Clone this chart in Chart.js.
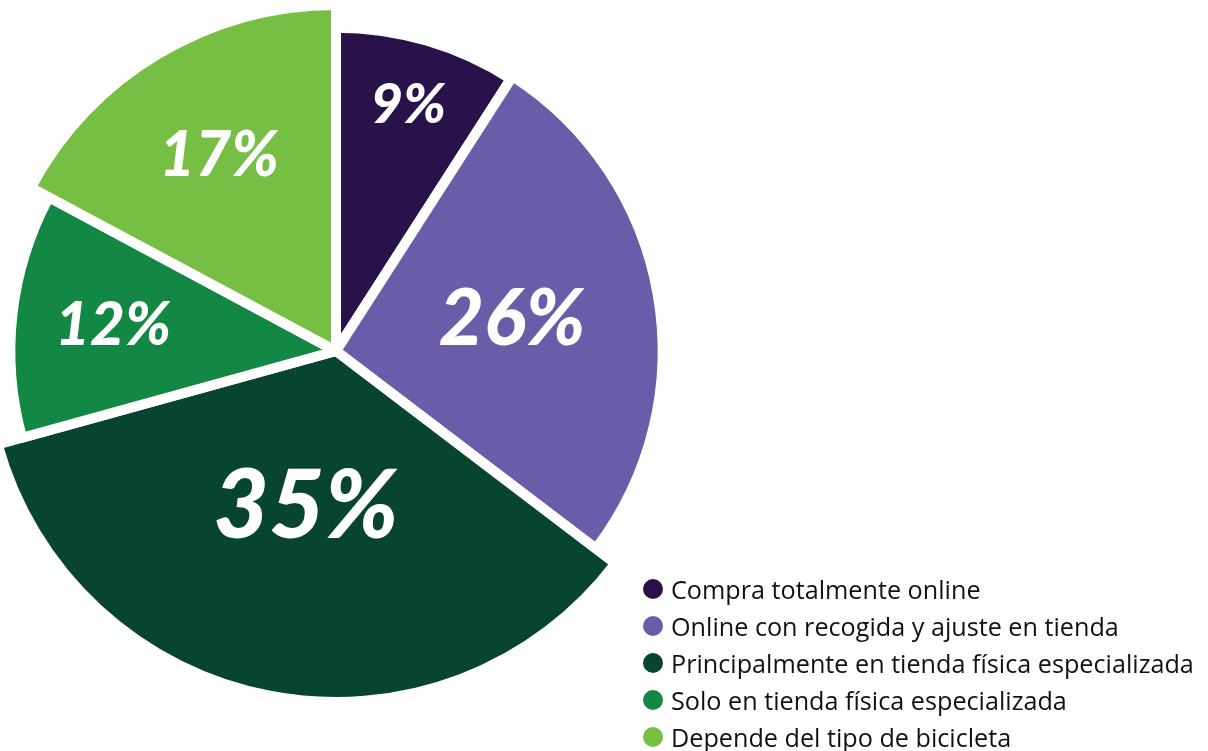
<!DOCTYPE html>
<html>
<head>
<meta charset="utf-8">
<script src="https://cdn.jsdelivr.net/npm/chart.js@4.4.1/dist/chart.umd.min.js"></script>
<style>
  html, body { margin: 0; padding: 0; background: #fff; }
  #wrap { position: relative; width: 1208px; height: 751px; }
  #legend {
    position: absolute; left: 643px; top: 571px;
    font-family: "Open Sans", sans-serif; font-size: 25.2px; color: #111;
  }
  #legend .row { height: 36.8px; display: flex; align-items: center; white-space: nowrap; }
  #legend .dot { width: 20px; height: 20px; border-radius: 50%; margin-right: 8px; flex: none; }
</style>
</head>
<body>
<div id="wrap">
  <canvas id="pie" width="1208" height="751"></canvas>
  <div id="legend"></div>
</div>
<script>
const categories = [
  "Compra totalmente online",
  "Online con recogida y ajuste en tienda",
  "Principalmente en tienda física especializada",
  "Solo en tienda física especializada",
  "Depende del tipo de bicicleta"
]
const values = [9, 26, 35, 12, 17]
const valueLabels = ["9%", "26%", "35%", "12%", "17%"]

const colors = ["#29124a", "#6a5ca8", "#07452e", "#138844", "#77bf44"]
// some slices are drawn a little bigger than the others
const radiusScale = [0.995, 1.005, 1.08, 1.002, 1.065]
// where the % text sits (share of the base radius) and its size
const labelDist = [0.79, 0.55, 0.49, 0.69, 0.7]
const labelSize = [56, 78, 96, 60, 62]

// legend
const legendEl = document.getElementById("legend")
categories.forEach((c, i) => {
  const row = document.createElement("div")
  row.className = "row"
  row.innerHTML = '<span class="dot" style="background:' + colors[i] + '"></span><span>' + c + '</span>'
  legendEl.appendChild(row)
})

const sliceSize = {
  id: "sliceSize",
  beforeDatasetsDraw(chart) {
    const meta = chart.getDatasetMeta(0)
    const base = meta.controller.outerRadius
    meta.data.forEach((arc, i) => {
      arc.outerRadius = base * radiusScale[i]
    })
  }
}

const pctLabels = {
  id: "pctLabels",
  afterDatasetsDraw(chart) {
    const meta = chart.getDatasetMeta(0)
    const base = meta.controller.outerRadius
    const ctx = chart.ctx
    ctx.save()
    ctx.fillStyle = "#fff"
    ctx.textAlign = "center"
    ctx.textBaseline = "middle"
    meta.data.forEach((arc, i) => {
      const mid = (arc.startAngle + arc.endAngle) / 2
      const d = base * labelDist[i]
      ctx.font = "italic 900 " + labelSize[i] + "px Lato, 'Open Sans', sans-serif"
      ctx.fillText(valueLabels[i], arc.x + Math.cos(mid) * d, arc.y + Math.sin(mid) * d)
    })
    ctx.restore()
  }
}

new Chart(document.getElementById("pie").getContext("2d"), {
  type: "pie",
  data: {
    labels: categories,
    datasets: [{
      data: values,
      backgroundColor: colors,
      borderColor: "#fff",
      borderWidth: 10,
      borderJoinStyle: "round",
      radius: 325,
      clip: false
    }]
  },
  options: {
    responsive: false,
    animation: false,
    layout: { padding: { left: 0, right: 536, top: 0, bottom: 49 } },
    plugins: {
      legend: { display: false },
      tooltip: { enabled: false }
    }
  },
  plugins: [sliceSize, pctLabels]
})
</script>
</body>
</html>
